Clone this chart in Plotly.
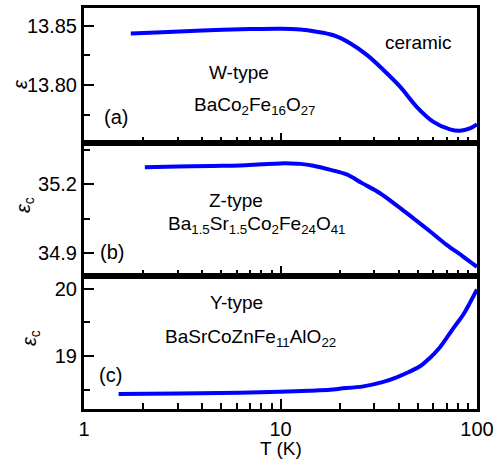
import plotly.graph_objects as go

# Panel (a): W-type ceramic
T_a = [1.73, 2.5, 4, 7, 10, 12.6, 15, 18.6, 22.6, 27.5, 33.4, 40.6, 49.3, 60, 72.9, 81.9, 92, 100]
eps_a = [13.8435, 13.8445, 13.8460, 13.8472, 13.8475, 13.8468, 13.8452, 13.8420, 13.8353, 13.8254,
         13.8127, 13.7986, 13.7816, 13.7689, 13.7625, 13.7613, 13.7633, 13.7667]

# Panel (b): Z-type
T_b = [2.04, 3, 4.5, 6.2, 8, 10, 11.2, 12.6, 14.7, 18, 21.7, 26, 32.1, 39, 47.4, 58, 70.1, 85, 100]
eps_b = [35.274, 35.277, 35.280, 35.282, 35.287, 35.291, 35.291, 35.289, 35.281, 35.263, 35.243,
         35.205, 35.161, 35.108, 35.052, 34.993, 34.936, 34.885, 34.840]

# Panel (c): Y-type
T_c = [1.5, 3, 6.2, 10, 14, 17.9, 20, 26.4, 33, 39, 45, 51.3, 57.6, 64, 70.1, 77, 85.2, 92, 100]
eps_c = [18.433, 18.440, 18.452, 18.467, 18.483, 18.497, 18.512, 18.547, 18.610, 18.682, 18.760,
         18.846, 18.970, 19.110, 19.269, 19.440, 19.617, 19.790, 19.990]

x_ticks = [1, 10, 100]

FONT = "Liberation Sans, Arial, sans-serif"
BLUE = "#0000FF"

fig = go.Figure()
for i, (T, e) in enumerate([(T_a, eps_a), (T_b, eps_b), (T_c, eps_c)], start=1):
    fig.add_trace(go.Scatter(x=T, y=e, mode="lines", line=dict(color=BLUE, width=4, shape="spline"),
                             xaxis="x" if i == 1 else f"x{i}", yaxis="y" if i == 1 else f"y{i}",
                             showlegend=False))

h = 401.0
def py(p):
    return (409 - p) / h
def px(p):
    return (p - 84) / 393.0

doms = [[py(143), 1.0], [py(276), py(143)], [0.0, py(276)]]
yranges = [[13.751, 13.865], [34.80, 35.38], [18.21, 20.19]]
ydt = [(0.05, 13.8, 0.025, ".2f"), (0.3, 34.9, 0.15, ".1f"), (1, 19, 0.5, "d")]

axline = dict(showline=True, linecolor="black", linewidth=3, mirror=True, showgrid=False,
              zeroline=False, tickcolor="black", tickwidth=2, automargin=False)

layout = dict(width=494, height=459, margin=dict(l=84, r=17, t=8, b=50),
              plot_bgcolor="white", paper_bgcolor="white",
              font=dict(family=FONT, size=20, color="black"))

for i in range(3):
    xs = "xaxis" if i == 0 else f"xaxis{i+1}"
    ys = "yaxis" if i == 0 else f"yaxis{i+1}"
    xa = "x" if i == 0 else f"x{i+1}"
    ya = "y" if i == 0 else f"y{i+1}"
    layout[xs] = dict(type="log", range=[0, 2], domain=[0, 1], anchor=ya,
                      ticks="inside", ticklen=10, tickvals=x_ticks,
                      ticktext=[str(v) for v in x_ticks], showticklabels=(i == 2),
                      minor=dict(ticks="inside", ticklen=6, tickwidth=2, tickcolor="black",
                                 tickvals=[2, 3, 4, 5, 6, 7, 8, 9, 20, 30, 40, 50, 60, 70, 80, 90]),
                      **axline)
    if i > 0:
        layout[xs]["matches"] = "x"
    dt, t0, mdt, fmt = ydt[i]
    layout[ys] = dict(range=yranges[i], domain=doms[i], anchor=xa, ticks="inside", ticklen=10,
                      dtick=dt, tick0=t0, tickformat=fmt,
                      minor=dict(ticks="inside", ticklen=6, tickwidth=2, tickcolor="black",
                                 dtick=mdt, tick0=t0),
                      **axline)

def ann(text, x, y, xanchor="center", size=19, angle=0):
    return dict(text=text, x=x, y=y, xref="paper", yref="paper", xanchor=xanchor, yanchor="middle",
                showarrow=False, font=dict(family=FONT, size=size, color="black"), textangle=angle)

layout["annotations"] = [
    ann("ceramic", px(418), py(42)),
    ann("W-type", px(239), py(72)),
    ann("BaCo<sub>2</sub>Fe<sub>16</sub>O<sub>27</sub>", px(192), py(106), "left"),
    ann("(a)", px(102), py(117), "left", 20),
    ann("Z-type", px(207), py(200), "left"),
    ann("Ba<sub>1.5</sub>Sr<sub>1.5</sub>Co<sub>2</sub>Fe<sub>24</sub>O<sub>41</sub>", px(166), py(225), "left"),
    ann("(b)", px(98), py(252), "left", 20),
    ann("Y-type", px(208), py(302), "left"),
    ann("BaSrCoZnFe<sub>11</sub>AlO<sub>22</sub>", px(163), py(338), "left"),
    ann("(c)", px(97), py(375), "left", 20),
    ann("<i>ε</i>", px(20), py(84), "center", 20, -90),
    ann("<i>ε</i><sub>c</sub>", px(24), py(205), "center", 20, -90),
    ann("<i>ε</i><sub>c</sub>", px(30), py(338), "center", 20, -90),
    ann("T (K)", px(281), py(448), "center", 19),
]

fig.update_layout(**layout)
fig.write_html("out.html", config={"displayModeBar": False},
               post_script="document.body.style.margin='0';document.body.style.overflow='hidden';")
